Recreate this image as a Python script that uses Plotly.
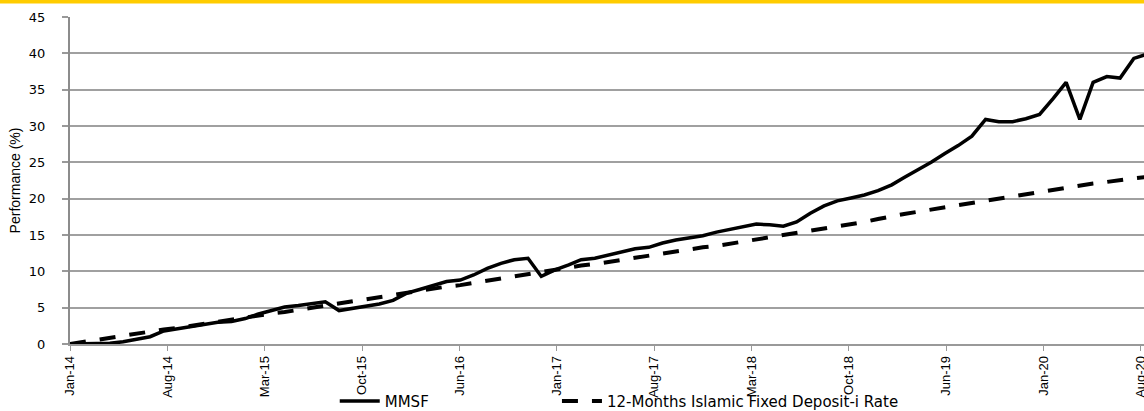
import plotly.graph_objects as go
import pandas as pd

# Month-end dates, Dec-2013 .. Aug-2020 (81 points)
dates = pd.date_range("2014-01-01", periods=81, freq="MS") - pd.Timedelta(days=1)

mmsf = [0.0, 0.0, 0.0, 0.1, 0.3, 0.6, 1.0, 1.8, 2.1, 2.5,
        2.8, 3.0, 3.1, 3.5, 4.1, 4.6, 5.1, 5.3, 5.5, 5.8,
        4.6, 4.9, 5.2, 5.5, 6.0, 7.0, 7.5, 8.1, 8.6, 8.8,
        9.5, 10.4, 11.1, 11.6, 11.8, 9.3, 10.2, 10.9, 11.6, 11.8,
        12.2, 12.7, 13.1, 13.3, 13.9, 14.3, 14.6, 14.9, 15.4, 15.8,
        16.1, 16.5, 16.4, 16.2, 16.8, 18.0, 19.0, 19.7, 20.1, 20.5,
        21.1, 21.9, 22.9, 23.9, 25.0, 26.2, 27.3, 28.6, 30.9, 30.6,
        30.6, 31.0, 31.6, 33.8, 36.0, 30.9, 36.0, 36.8, 36.6, 39.3,
        39.9]

fd_rate = [0.0, 0.3, 0.6, 0.8, 1.1, 1.4, 1.7, 2.0, 2.2, 2.5,
           2.8, 3.0, 3.3, 3.6, 3.9, 4.2, 4.4, 4.7, 5.0, 5.3,
           5.6, 5.9, 6.1, 6.4, 6.7, 7.0, 7.3, 7.6, 7.9, 8.1,
           8.4, 8.7, 9.0, 9.3, 9.6, 9.9, 10.2, 10.5, 10.8, 11.0,
           11.3, 11.6, 11.9, 12.1, 12.4, 12.7, 13.0, 13.3, 13.5, 13.8,
           14.1, 14.4, 14.7, 15.0, 15.3, 15.6, 15.9, 16.2, 16.5, 16.8,
           17.2, 17.6, 17.9, 18.2, 18.5, 18.8, 19.1, 19.4, 19.8, 20.1,
           20.4, 20.7, 21.0, 21.3, 21.6, 21.8, 22.1, 22.3, 22.6, 22.8,
           23.0]

tick_labels = ["Jan-14", "Aug-14", "Mar-15", "Oct-15", "Jun-16", "Jan-17",
               "Aug-17", "Mar-18", "Oct-18", "Jun-19", "Jan-20", "Aug-20"]

start = pd.Timestamp("2013-12-31")
tick_step = pd.Timedelta(days=220)
tick_vals = [start + i * tick_step for i in range(len(tick_labels))]
x_end = tick_vals[-1] + pd.Timedelta(days=7)

fig = go.Figure()
fig.add_trace(go.Scatter(
    x=dates, y=mmsf, mode="lines", name="MMSF", legend="legend",
    line=dict(color="#000000", width=3.5),
))
fig.add_trace(go.Scatter(
    x=dates, y=fd_rate, mode="lines", name="12-Months Islamic Fixed Deposit-i Rate",
    legend="legend2",
    line=dict(color="#000000", width=4, dash="16px,14px"),
))

legend_font = dict(family="DejaVu Sans", size=15, color="#000000")
fig.update_layout(
    width=1144, height=411,
    margin=dict(l=70, r=0, t=17, b=67, autoexpand=False),
    paper_bgcolor="white", plot_bgcolor="white",
    showlegend=True,
    legend=dict(
        orientation="h", x=0.2465, xanchor="left", itemwidth=40,
        yref="container", y=0.024, yanchor="middle",
        font=legend_font, bgcolor="rgba(0,0,0,0)",
    ),
    legend2=dict(
        orientation="h", x=0.4534, xanchor="left", itemwidth=40,
        yref="container", y=0.024, yanchor="middle",
        font=legend_font, bgcolor="rgba(0,0,0,0)",
    ),
    shapes=[dict(
        type="rect", xref="paper", yref="paper",
        x0=-0.1, x1=1.05, y0=1 + 13.5 / 327, y1=1 + 20 / 327,
        fillcolor="#FFCC00", line=dict(width=0), layer="above",
    )],
)

fig.update_xaxes(
    type="date", range=[start, x_end], automargin=False,
    tickmode="array", tickvals=tick_vals, ticktext=tick_labels,
    tickangle=-90, ticks="outside", ticklen=5, tickwidth=1, tickcolor="#999999",
    tickfont=dict(family="Liberation Sans", size=13, color="#000000"),
    ticklabeloverflow="allow",
    showgrid=False, showline=True, linecolor="#999999", linewidth=1.5,
    zeroline=False,
)
fig.update_yaxes(
    range=[0, 45], tickmode="linear", tick0=0, dtick=5, automargin=False,
    ticks="outside", ticklen=6, tickwidth=1.5, tickcolor="#999999",
    ticklabelstandoff=14,
    tickfont=dict(family="DejaVu Sans", size=13, color="#000000"),
    showgrid=True, gridcolor="#a0a0a0", gridwidth=1.5,
    showline=True, linecolor="#8c8c8c", linewidth=2,
    zeroline=False,
    title=dict(text="Performance (%)", standoff=5,
               font=dict(family="Liberation Sans", size=14, color="#000000")),
)

fig.write_html("out.html", config={"displayModeBar": False},
               post_script="document.body.style.margin='0';")
